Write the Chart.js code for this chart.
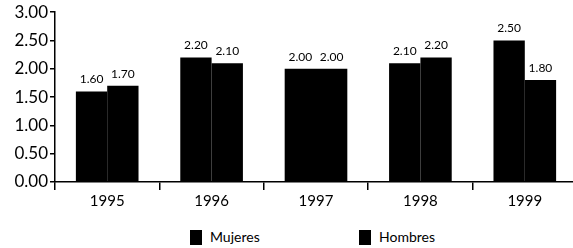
<!DOCTYPE html>
<html>
<head>
<meta charset="utf-8">
<script src="https://cdn.jsdelivr.net/npm/chart.js@4"></script>
<style>
  html, body { margin: 0; padding: 0; background: #fff; overflow: hidden; }
  #wrap { position: relative; width: 577px; height: 248px; }
  #legend { position: absolute; top: 228px; left: 0; width: 573px; font-family: Lato, sans-serif; font-size: 14px; color: #000; }
  #legend span { position: absolute; top: 0; }
  #legend i { display: inline-block; width: 12px; height: 15px; background: #000; vertical-align: -3px; margin-right: 8px; }
</style>
</head>
<body>
<div id="wrap">
  <canvas id="chart" width="577" height="212"></canvas>
  <div id="legend">
    <span style="left:190px"><i></i>Mujeres</span>
    <span style="left:359px"><i></i>Hombres</span>
  </div>
</div>
<script>
const years = ['1995', '1996', '1997', '1998', '1999'];
const mujeres = [1.60, 2.20, 2.00, 2.10, 2.50];
const hombres = [1.70, 2.10, 2.00, 2.20, 1.80];

// draw the value above every bar
const valueLabels = {
  id: 'valueLabels',
  afterDatasetsDraw(chart) {
    const ctx = chart.ctx;
    ctx.save();
    ctx.font = '12px Lato, sans-serif';
    ctx.fillStyle = '#000';
    ctx.textAlign = 'center';
    ctx.textBaseline = 'bottom';
    chart.data.datasets.forEach((ds, i) => {
      chart.getDatasetMeta(i).data.forEach((bar, j) => {
        ctx.fillText(ds.data[j].toFixed(2), bar.x, bar.y - 6);
      });
    });
    ctx.restore();
  }
};

new Chart(document.getElementById('chart').getContext('2d'), {
  type: 'bar',
  data: {
    labels: years,
    datasets: [
      { label: 'Mujeres', data: mujeres, backgroundColor: '#000', barPercentage: 1, categoryPercentage: 0.6 },
      { label: 'Hombres', data: hombres, backgroundColor: '#000', barPercentage: 1, categoryPercentage: 0.6 }
    ]
  },
  options: {
    responsive: false,
    animation: false,
    layout: { padding: { top: 5, right: 0, left: 0, bottom: 0 } },
    plugins: { legend: { display: false }, tooltip: { enabled: false } },
    scales: {
      x: {
        grid: { offset: true, drawOnChartArea: false, tickLength: 8, color: '#000', lineWidth: 1.5 },
        border: { color: '#000', width: 1.5 },
        ticks: { color: '#000', font: { family: 'Lato, sans-serif', size: 15 }, padding: 2 }
      },
      y: {
        min: 0,
        max: 3,
        afterFit(scale) { scale.width = 55; },
        grid: { drawOnChartArea: false, tickLength: 5, color: '#000', lineWidth: 1.5 },
        border: { color: '#000', width: 1.5 },
        ticks: {
          stepSize: 0.5,
          color: '#000',
          padding: 2,
          font: { family: 'Lato, sans-serif', size: 17 },
          callback: v => v.toFixed(2)
        }
      }
    }
  },
  plugins: [valueLabels]
});
</script>
</body>
</html>
